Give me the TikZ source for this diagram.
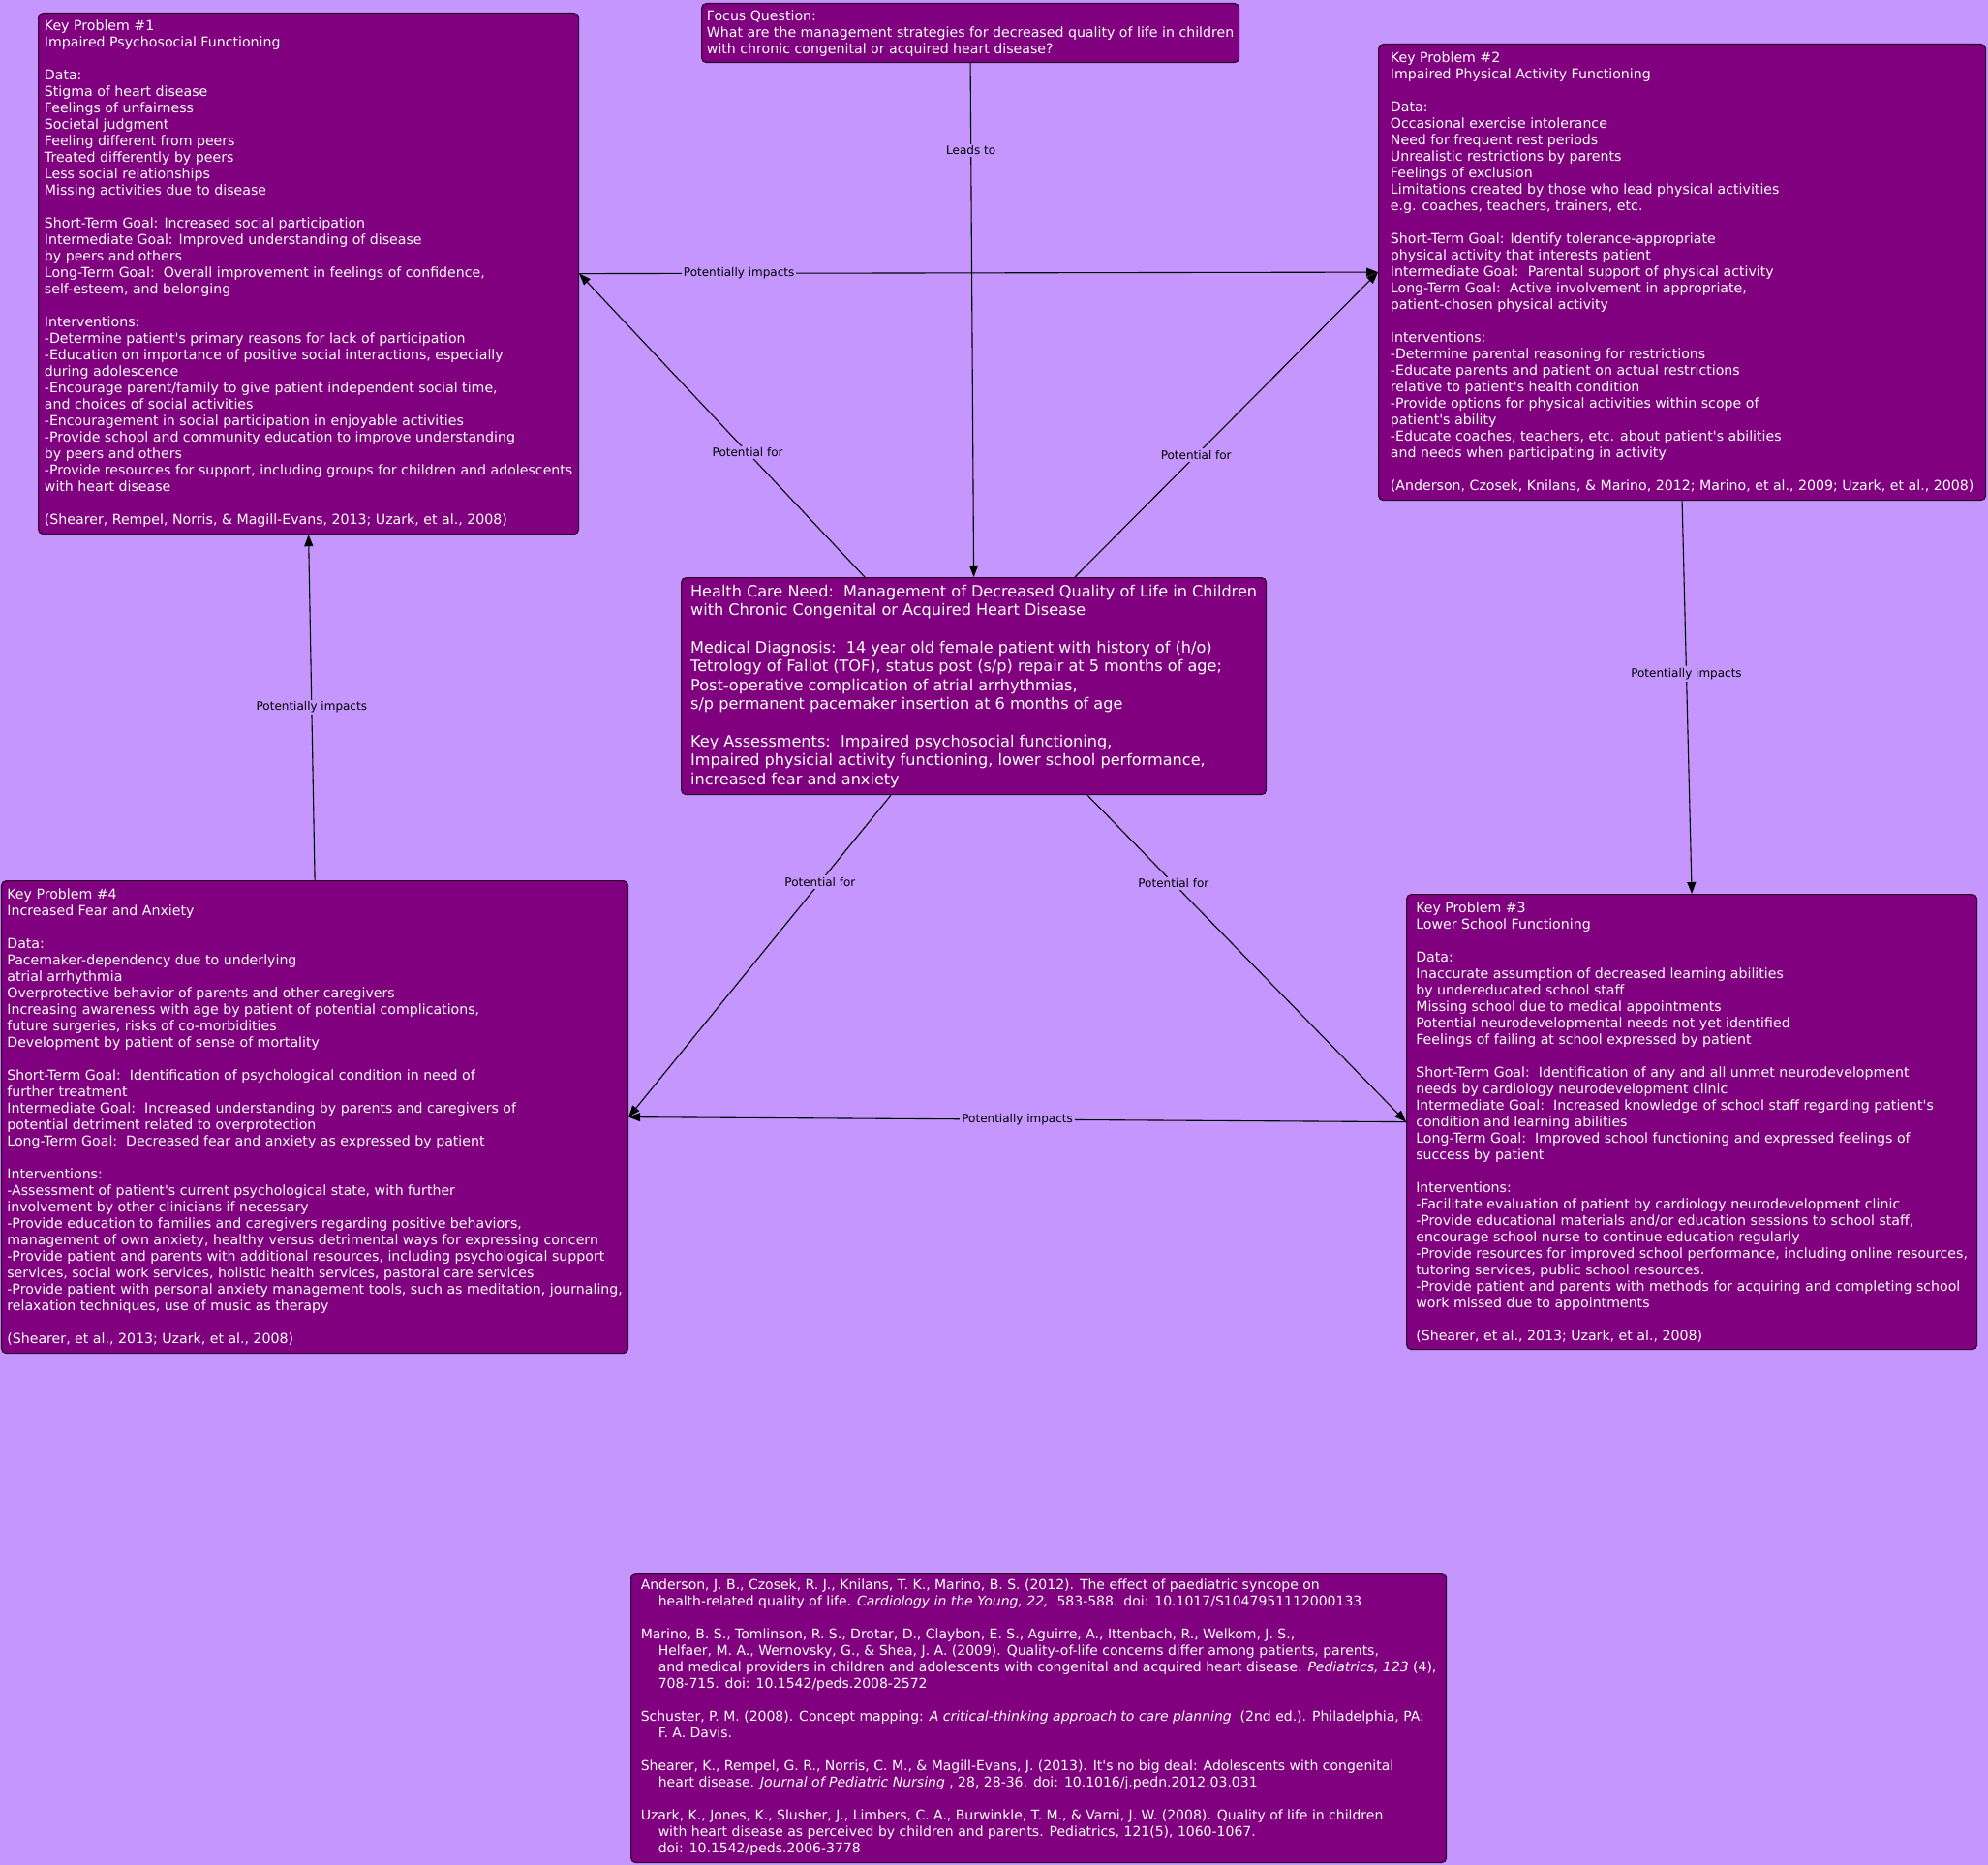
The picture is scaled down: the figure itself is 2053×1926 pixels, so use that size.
\documentclass[tikz,border=0pt]{standalone}
\usepackage{fontspec}
\setmainfont{DejaVu Sans}
\usetikzlibrary{arrows.meta, positioning}
\definecolor{mapbg}{RGB}{196,150,254}
\definecolor{mapbox}{RGB}{128,0,128}
\definecolor{mapline}{RGB}{45,0,45}
\newcommand{\apos}{\textquotesingle}
\tikzset{
  kbox/.style={draw=mapline, line width=1.2pt, rounded corners=5pt, fill=mapbox, text=white,
    align=left, anchor=north west, inner sep=0pt, font=\fontsize{14.15}{17}\selectfont},
  lbl/.style={fill=mapbg, inner sep=2pt, text=black, font=\fontsize{12}{14}\selectfont},
  arr/.style={-{Triangle[length=12pt, width=9pt]}, line width=1.1pt},
}

\begin{document}
\begin{tikzpicture}[x=1pt, y=-1pt]
  \useasboundingbox (0,0) rectangle (2053,1926);
  \fill[mapbg] (0,0) rectangle (2053,1926);

  \node[kbox, minimum width=555pt, minimum height=61pt] (focus) at (724,3) {Focus Question:\\
    What are the management strategies for decreased quality of life in children\\
    with chronic congenital or acquired heart disease?};

  \node[kbox, minimum width=604pt, minimum height=224pt, font=\fontsize{16.1}{19.4}\selectfont] (hcn) at (703,596) {%
    Health Care Need:~~Management of Decreased Quality of Life in Children\\
    with Chronic Congenital or Acquired Heart Disease\\[\baselineskip]
    Medical Diagnosis:~~14 year old female patient with history of (h/o)\\
    Tetrology of Fallot (TOF), status post (s/p) repair at 5 months of age;\\
    Post-operative complication of atrial arrhythmias,\\
    s/p permanent pacemaker insertion at 6 months of age\\[\baselineskip]
    Key Assessments:~~Impaired psychosocial functioning,\\
    Impaired physicial activity functioning, lower school performance,\\
    increased fear and anxiety};

  \node[kbox, minimum width=558pt, minimum height=538pt] (kp1) at (39,13) {%
    Key Problem \#1\\
    Impaired Psychosocial Functioning\\[\baselineskip]
    Data:\\
    Stigma of heart disease\\
    Feelings of unfairness\\
    Societal judgment\\
    Feeling different from peers\\
    Treated differently by peers\\
    Less social relationships\\
    Missing activities due to disease\\[\baselineskip]
    Short-Term Goal: Increased social participation\\
    Intermediate Goal: Improved understanding of disease\\
    by peers and others\\
    Long-Term Goal:~~Overall improvement in feelings of confidence,\\
    self-esteem, and belonging\\[\baselineskip]
    Interventions:\\
    -Determine patient\apos s primary reasons for lack of participation\\
    -Education on importance of positive social interactions, especially\\
    during adolescence\\
    -Encourage parent/family to give patient independent social time,\\
    and choices of social activities\\
    -Encouragement in social participation in enjoyable activities\\
    -Provide school and community education to improve understanding\\
    by peers and others\\
    -Provide resources for support, including groups for children and adolescents\\
    with heart disease\\[\baselineskip]
    (Shearer, Rempel, Norris, \& Magill-Evans, 2013; Uzark, et al., 2008)};

  \node[kbox, minimum width=627pt, minimum height=471pt] (kp2) at (1423,45) {%
    Key Problem \#2\\
    Impaired Physical Activity Functioning\\[\baselineskip]
    Data:\\
    Occasional exercise intolerance\\
    Need for frequent rest periods\\
    Unrealistic restrictions by parents\\
    Feelings of exclusion\\
    Limitations created by those who lead physical activities\\
    e.g. coaches, teachers, trainers, etc.\\[\baselineskip]
    Short-Term Goal: Identify tolerance-appropriate\\
    physical activity that interests patient\\
    Intermediate Goal:~~Parental support of physical activity\\
    Long-Term Goal:~~Active involvement in appropriate,\\
    patient-chosen physical activity\\[\baselineskip]
    Interventions:\\
    -Determine parental reasoning for restrictions\\
    -Educate parents and patient on actual restrictions\\
    relative to patient\apos s health condition\\
    -Provide options for physical activities within scope of\\
    patient\apos s ability\\
    -Educate coaches, teachers, etc. about patient\apos s abilities\\
    and needs when participating in activity\\[\baselineskip]
    (Anderson, Czosek, Knilans, \& Marino, 2012; Marino, et al., 2009; Uzark, et al., 2008)};

  \node[kbox, minimum width=589pt, minimum height=470pt] (kp3) at (1452,923) {%
    Key Problem \#3\\
    Lower School Functioning\\[\baselineskip]
    Data:\\
    Inaccurate assumption of decreased learning abilities\\
    by undereducated school staff\\
    Missing school due to medical appointments\\
    Potential neurodevelopmental needs not yet identified\\
    Feelings of failing at school expressed by patient\\[\baselineskip]
    Short-Term Goal:~~Identification of any and all unmet neurodevelopment\\
    needs by cardiology neurodevelopment clinic\\
    Intermediate Goal:~~Increased knowledge of school staff regarding patient\apos s\\
    condition and learning abilities\\
    Long-Term Goal:~~Improved school functioning and expressed feelings of\\
    success by patient\\[\baselineskip]
    Interventions:\\
    -Facilitate evaluation of patient by cardiology neurodevelopment clinic\\
    -Provide educational materials and/or education sessions to school staff,\\
    encourage school nurse to continue education regularly\\
    -Provide resources for improved school performance, including online resources,\\
    tutoring services, public school resources.\\
    -Provide patient and parents with methods for acquiring and completing school\\
    work missed due to appointments\\[\baselineskip]
    (Shearer, et al., 2013; Uzark, et al., 2008)};

  \node[kbox, minimum width=647pt, minimum height=488pt] (kp4) at (1,909) {%
    Key Problem \#4\\
    Increased Fear and Anxiety\\[\baselineskip]
    Data:\\
    Pacemaker-dependency due to underlying\\
    atrial arrhythmia\\
    Overprotective behavior of parents and other caregivers\\
    Increasing awareness with age by patient of potential complications,\\
    future surgeries, risks of co-morbidities\\
    Development by patient of sense of mortality\\[\baselineskip]
    Short-Term Goal:~~Identification of psychological condition in need of\\
    further treatment\\
    Intermediate Goal:~~Increased understanding by parents and caregivers of\\
    potential detriment related to overprotection\\
    Long-Term Goal:~~Decreased fear and anxiety as expressed by patient\\[\baselineskip]
    Interventions:\\
    -Assessment of patient\apos s current psychological state, with further\\
    involvement by other clinicians if necessary\\
    -Provide education to families and caregivers regarding positive behaviors,\\
    management of own anxiety, healthy versus detrimental ways for expressing concern\\
    -Provide patient and parents with additional resources, including psychological support\\
    services, social work services, holistic health services, pastoral care services\\
    -Provide patient with personal anxiety management tools, such as meditation, journaling,\\
    relaxation techniques, use of music as therapy\\[\baselineskip]
    (Shearer, et al., 2013; Uzark, et al., 2008)};

  \node[kbox, minimum width=842pt, minimum height=299pt, font=\fontsize{14}{17}\selectfont] (refs) at (651,1624) {%
    Anderson, J. B., Czosek, R. J., Knilans, T. K., Marino, B. S. (2012). The effect of paediatric syncope on\\
    \hspace*{18pt}health-related quality of life. \textit{Cardiology in the Young, 22,}~~583-588. doi: 10.1017/S1047951112000133\\[\baselineskip]
    Marino, B. S., Tomlinson, R. S., Drotar, D., Claybon, E. S., Aguirre, A., Ittenbach, R., Welkom, J. S.,\\
    \hspace*{18pt}Helfaer, M. A., Wernovsky, G., \& Shea, J. A. (2009). Quality-of-life concerns differ among patients, parents,\\
    \hspace*{18pt}and medical providers in children and adolescents with congenital and acquired heart disease. \textit{Pediatrics, 123} (4),\\
    \hspace*{18pt}708-715. doi: 10.1542/peds.2008-2572\\[\baselineskip]
    Schuster, P. M. (2008). Concept mapping: \textit{A critical-thinking approach to care planning}~~(2nd ed.). Philadelphia, PA:\\
    \hspace*{18pt}F. A. Davis.\\[\baselineskip]
    Shearer, K., Rempel, G. R., Norris, C. M., \& Magill-Evans, J. (2013). It\apos s no big deal: Adolescents with congenital\\
    \hspace*{18pt}heart disease. \textit{Journal of Pediatric Nursing} , 28, 28-36. doi: 10.1016/j.pedn.2012.03.031\\[\baselineskip]
    Uzark, K., Jones, K., Slusher, J., Limbers, C. A., Burwinkle, T. M., \& Varni, J. W. (2008). Quality of life in children\\
    \hspace*{18pt}with heart disease as perceived by children and parents. Pediatrics, 121(5), 1060-1067.\\
    \hspace*{18pt}doi: 10.1542/peds.2006-3778};

  \draw[arr] (focus.south) -- node[lbl, pos=0.17] {Leads to} (hcn.north);
  \draw[arr] ([xshift=190pt]hcn.north west) -- node[lbl, pos=0.41] {Potential for} (kp1.east);
  \draw[arr] ([xshift=407pt]hcn.north west) -- node[lbl, pos=0.40] {Potential for} (kp2.west);
  \draw[arr] (kp1.east) -- node[lbl, pos=0.2] {Potentially impacts} (kp2.west);
  \draw[arr] (kp4.north) -- node[lbl] {Potentially impacts} (kp1.south);
  \draw[arr] (kp2.south) -- node[lbl, pos=0.44] {Potentially impacts} (kp3.north);
  \draw[arr] ([xshift=217pt]hcn.south west) -- node[lbl, pos=0.27] {Potential for} (kp4.east);
  \draw[arr] ([xshift=420pt]hcn.south west) -- node[lbl, pos=0.27] {Potential for} (kp3.west);
  \draw[arr] (kp3.west) -- node[lbl] {Potentially impacts} (kp4.east);
\end{tikzpicture}
\end{document}
